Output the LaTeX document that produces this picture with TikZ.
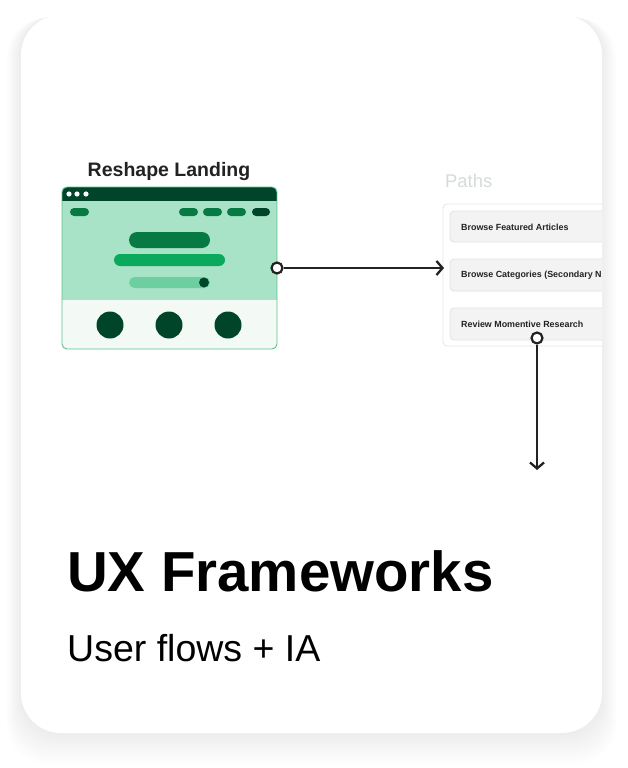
\documentclass[tikz,border=0pt]{standalone}
\usepackage{fontspec}
\setmainfont{Liberation Sans}
\usetikzlibrary{arrows.meta}
\definecolor{dkgreen}{HTML}{00452A}
\definecolor{ltgreen}{HTML}{A8E3C8}
\definecolor{paleg}{HTML}{F3FAF6}
\definecolor{bordg}{HTML}{5FC08F}
\definecolor{midg}{HTML}{077A44}
\definecolor{brg}{HTML}{0BA95C}
\definecolor{softg}{HTML}{6DCFA0}
\definecolor{pathgray}{HTML}{D3DCD9}
\definecolor{itemfill}{HTML}{F3F3F3}
\definecolor{itemline}{HTML}{E2E2E2}
\definecolor{panelline}{HTML}{E6E6E6}
\definecolor{ink}{HTML}{222222}
\tikzset{
  itembox/.style={draw=itemline, fill=itemfill, line width=0.8pt, rounded corners=4pt},
  itemtext/.style={anchor=west, inner sep=0pt, font=\fontsize{8.9}{10}\selectfont\bfseries, text=ink},
  portdot/.style={circle, draw=ink, fill=white, line width=2.2pt, minimum size=11pt, inner sep=0pt},
  flow/.style={draw=ink, line width=2.3pt, -{Straight Barb[length=6pt,width=14pt,line width=2.3pt]}}
}
\begin{document}
\begin{tikzpicture}[x=1pt,y=-1pt]
\useasboundingbox (0,0) rectangle (628,768);
\fill[white] (0,0) rectangle (628,768);
% shadow
\foreach \i in {1,...,18}{
  \fill[black, opacity=0.005, rounded corners=40pt]
    ({21-0.8*\i},{15-0.6*\i+0.75*\i}) rectangle ({602+0.8*\i},{733+\i+0.75*\i});
}
% card
\fill[white, rounded corners=40pt] (21,15) rectangle (602,733);
\begin{scope}
\clip[rounded corners=40pt] (21,15) rectangle (602,733);
% Paths panel
\node[anchor=base west, inner sep=0pt, font=\fontsize{18.4}{20}\selectfont, text=pathgray] (pathslabel) at (445,187) {Paths};
\draw[panelline, fill=white, line width=0.8pt, rounded corners=4pt] (443,204) rectangle (660,346);
\draw[itembox] (450,211) rectangle (650,242);
\draw[itembox] (450,259) rectangle (650,291);
\draw[itembox] (450,308) rectangle (650,340);
\node[itemtext] (item1) at (461,227) {Browse Featured Articles};
\node[itemtext] (item2) at (461,275.5) {Browse Categories (Secondary N};
\node[itemtext] (item3) at (461,324) {Review Momentive Research};
\end{scope}
% Landing window
\node[anchor=base, inner sep=0pt, font=\fontsize{19.5}{22}\selectfont\bfseries, text=ink] (title) at (169,176) {Reshape Landing};
\begin{scope}
\clip[rounded corners=5pt] (62,187) rectangle (277,349);
\fill[paleg] (62,187) rectangle (277,349);
\fill[ltgreen] (62,187) rectangle (277,300);
\fill[dkgreen] (62,187) rectangle (277,200.5);
\end{scope}
\draw[bordg, line width=0.9pt, rounded corners=5pt] (62,187) rectangle (277,349);
\foreach \x in {69,77,86} \fill[white] (\x,194) circle (2.6pt);
% nav pills
\fill[midg, rounded corners=4pt] (70,208) rectangle (89,216);
\fill[midg, rounded corners=4pt] (179,208) rectangle (198,216);
\fill[midg, rounded corners=4pt] (203,208) rectangle (222,216);
\fill[midg, rounded corners=4pt] (227,208) rectangle (246,216);
\fill[dkgreen, rounded corners=4pt] (252,208) rectangle (270,216);
% hero bars
\fill[midg, rounded corners=8pt] (129,232) rectangle (210,248);
\fill[brg, rounded corners=6pt] (114,254) rectangle (225,266);
\fill[softg, rounded corners=5.5pt] (129,277) rectangle (210,288);
\fill[dkgreen] (204,282.5) circle (5pt);
% circles
\foreach \x in {110,169,228} \fill[dkgreen] (\x,325) circle (13.5pt);
% connectors
\node[portdot] (dot1) at (277,268) {};
\coordinate (end1) at (444,268);
\draw[flow] (dot1) -- (end1);
\node[portdot] (dot2) at (537,338) {};
\coordinate (end2) at (537,470);
\draw[flow] (dot2) -- (end2);
% titles
\node[anchor=base west, inner sep=0pt, font=\fontsize{56.4}{60}\selectfont\bfseries, text=black] (heading) at (67,591) {UX Frameworks};
\node[anchor=base west, inner sep=0pt, font=\fontsize{37.5}{40}\selectfont, text=black] (sub) at (67,661) {User flows + IA};
\end{tikzpicture}
\end{document}
